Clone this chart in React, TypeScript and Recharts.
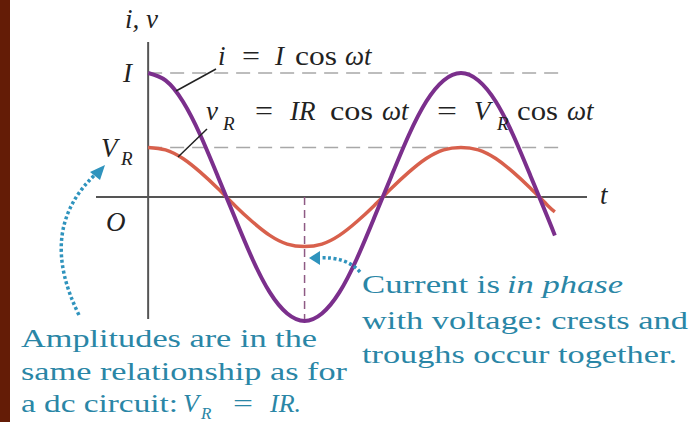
import React from 'react';
import { LineChart, Line, XAxis, YAxis, ReferenceLine } from 'recharts';

// phase (degrees of ωt) read along the t axis
const phaseDeg = [0, 20, 40, 60, 80, 100, 120, 140, 160, 180, 200, 220, 240, 260, 280, 300, 320, 340, 360, 380, 400, 420, 440, 460, 468];
// current i, in units of I
const currentI = [1.0, 0.94, 0.77, 0.5, 0.17, -0.17, -0.5, -0.77, -0.94, -1.0, -0.94, -0.77, -0.5, -0.17, 0.17, 0.5, 0.77, 0.94, 1.0, 0.94, 0.77, 0.5, 0.17, -0.17, -0.31];
// resistor voltage vR, same units (VR = 0.4 I)
const voltageVR = [0.4, 0.38, 0.31, 0.2, 0.07, -0.07, -0.2, -0.31, -0.38, -0.4, -0.38, -0.31, -0.2, -0.07, 0.07, 0.2, 0.31, 0.38, 0.4, 0.38, 0.31, 0.2, 0.07, -0.07, -0.12];

const ampI = 1;
const ampVR = 0.4;
const dashEnd = 472;
const troughPhase = 180;

const rows = phaseDeg.map((p, k) => ({ phase: p, i: currentI[k], v: voltageVR[k] }));

const SERIF = 'Liberation Serif, Times New Roman, DejaVu Serif, serif';
const BLUE = '#2a86a6';
const INK = '#222';

const T = ({ x, y, size = 27, italic = false, fill = INK, len, children }: any) => (
  <text
    x={x}
    y={y}
    fill={fill}
    textLength={len}
    lengthAdjust={len ? 'spacingAndGlyphs' : undefined}
    style={{ fontFamily: SERIF, fontSize: size, fontStyle: italic ? 'italic' : 'normal' }}
  >
    {children}
  </text>
);

export default function App() {
  return (
    <div style={{ position: 'absolute', left: 0, top: 0, width: 696, height: 422, background: '#fff', overflow: 'hidden' }}>
      <div style={{ position: 'absolute', left: 0, top: 0, width: 10, height: 422, background: '#641c06' }} />
      <div style={{ position: 'absolute', left: 0, top: 0 }}>
        <LineChart width={696} height={422} data={rows} margin={{ top: 42, right: 109, bottom: 92, left: 96 }}>
          <XAxis type="number" dataKey="phase" domain={[-60, 505]} allowDataOverflow hide />
          <YAxis type="number" domain={[-1.073, 1.25]} allowDataOverflow hide />
          <ReferenceLine y={0} stroke="#555" strokeWidth={2} />
          <ReferenceLine segment={[{ x: 0, y: -0.985 }, { x: 0, y: 1.25 }]} stroke="#555" strokeWidth={2} />
          <ReferenceLine segment={[{ x: 0, y: ampI }, { x: dashEnd, y: ampI }]} stroke="#a8a8a8" strokeWidth={1.5} strokeDasharray="14 8" />
          <ReferenceLine segment={[{ x: 0, y: ampVR }, { x: dashEnd, y: ampVR }]} stroke="#a8a8a8" strokeWidth={1.5} strokeDasharray="14 8" />
          <ReferenceLine segment={[{ x: troughPhase, y: 0 }, { x: troughPhase, y: -ampI }]} stroke="#8e5a84" strokeWidth={1.5} strokeDasharray="8 5" />
          <Line type="natural" dataKey="v" stroke="#d8604c" strokeWidth={3.5} dot={false} isAnimationActive={false} />
          <Line type="natural" dataKey="i" stroke="#7b2f8c" strokeWidth={4} dot={false} isAnimationActive={false} />
        </LineChart>
      </div>
      <svg width={696} height={422} style={{ position: 'absolute', left: 0, top: 0, pointerEvents: 'none' }}>
        {/* axis labels */}
        <T x={125} y={28} italic>i, v</T>
        <T x={123} y={82} italic>I</T>
        <T x={101} y={157} italic>V</T>
        <T x={121} y={165} size={19} italic>R</T>
        <T x={106} y={231} italic>O</T>
        <T x={600} y={204} italic>t</T>

        {/* i = I cos ωt */}
        <T x={218} y={65} italic>i</T>
        <T x={242} y={65} len={18}>=</T>
        <T x={275} y={65} italic>I</T>
        <T x={295} y={65} len={42}>cos</T>
        <T x={345} y={65} italic>ωt</T>
        <line x1={216} y1={69} x2={176} y2={91} stroke={INK} strokeWidth={1.5} />

        {/* vR = IR cos ωt = VR cos ωt */}
        <T x={206} y={120} italic>v</T>
        <T x={223} y={130} size={19} italic>R</T>
        <T x={255} y={120} len={18}>=</T>
        <T x={290} y={120} italic>IR</T>
        <T x={330} y={120} len={43}>cos</T>
        <T x={382} y={120} italic>ωt</T>
        <T x={437} y={120} len={20}>=</T>
        <T x={474} y={120} italic>V</T>
        <T x={497} y={130} size={19} italic>R</T>
        <T x={517} y={120} len={41}>cos</T>
        <T x={567} y={120} italic>ωt</T>
        <line x1={207} y1={129} x2={178} y2={157} stroke={INK} strokeWidth={1.5} />

        {/* dotted arrows */}
        <path d="M 79 315 Q 36 228 97 173" fill="none" stroke="#2f93bd" strokeWidth={3.5} strokeDasharray="3 2.5" />
        <polygon points="105,165 90,172 100,180" fill="#2f93bd" />
        <path d="M 360 272 Q 346 256 318 258" fill="none" stroke="#2f93bd" strokeWidth={3.5} strokeDasharray="3 2.5" />
        <polygon points="309,258 320,251 320,265" fill="#2f93bd" />

        {/* left note */}
        <T x={21} y={347} size={26} fill={BLUE} len={296}>Amplitudes are in the</T>
        <T x={21} y={380} size={26} fill={BLUE} len={326}>same relationship as for</T>
        <T x={21} y={412} size={26} fill={BLUE} len={157}>a dc circuit:</T>
        <T x={183} y={412} size={26} fill={BLUE} italic>V</T>
        <T x={201} y={419} size={17} fill={BLUE} italic>R</T>
        <T x={233} y={412} size={26} fill={BLUE} len={20}>=</T>
        <T x={270} y={412} size={26} fill={BLUE} italic>IR.</T>

        {/* right note */}
        <T x={362} y={293} size={26} fill={BLUE} len={138}>Current is</T>
        <T x={507} y={293} size={26} fill={BLUE} italic len={116}>in phase</T>
        <T x={362} y={329} size={26} fill={BLUE} len={326}>with voltage: crests and</T>
        <T x={362} y={363} size={26} fill={BLUE} len={315}>troughs occur together.</T>
      </svg>
    </div>
  );
}
